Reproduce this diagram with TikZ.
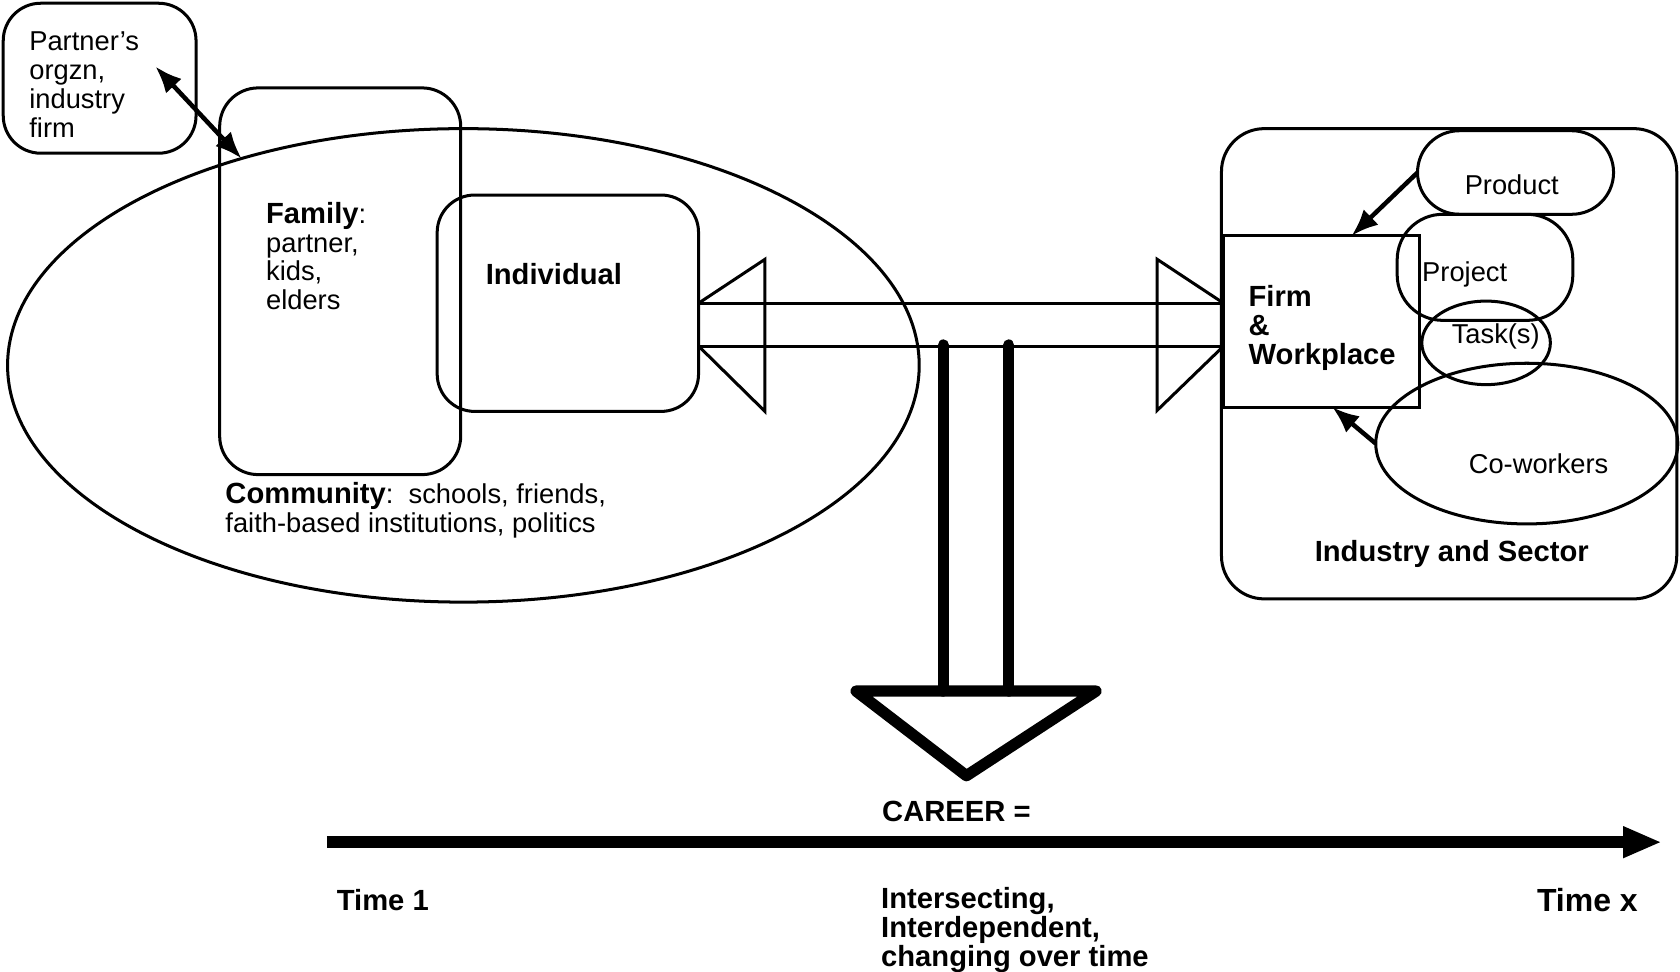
\documentclass[tikz,border=0pt]{standalone}
\usepackage{fontspec}
\setmainfont{Liberation Sans}
\usetikzlibrary{shapes,arrows,positioning,calc,arrows.meta}
\newcommand{\hb}[1]{{\fontsize{15.5}{15.4}\selectfont\bfseries #1}}

\begin{document}
\begin{tikzpicture}[x=0.02cm, y=-0.02cm, >={Latex[length=0.5cm,width=0.4cm]}, line width=1.6pt,
    box/.style={draw, rectangle, inner sep=0pt, outer sep=0pt},
    oval/.style={draw, ellipse, inner sep=0pt, outer sep=0pt},
    txt/.style={inner sep=0pt, align=left, font=\fontsize{14.5}{15.4}\selectfont},
    btxt/.style={txt, font=\fontsize{15.5}{15.4}\selectfont\bfseries},
    link/.style={->, line width=2.4pt},
    stem/.style={line width=6pt}]
    \useasboundingbox (0,0) rectangle (1568,907);

    % community, family, individual
    \node[oval, minimum width=17.02cm, minimum height=8.84cm] (community) at (432.5,341) {};
    \node[txt, anchor=north west] (communitytxt) at (209,449) {\hb{Community}:~~schools, friends,\\faith-based institutions, politics};
    \node[box, rounded corners=0.72cm, minimum width=4.5cm, minimum height=7.22cm] (family) at (317.5,262.5) {};
    \node[txt, anchor=north west] (familytxt) at (247,187) {\hb{Family}:\\partner,\\kids,\\elders};
    \node[box, rounded corners=0.7cm, minimum width=4.88cm, minimum height=4.04cm] (individual) at (530,283) {};
    \node[btxt, anchor=west] (individualtxt) at (452,256) {Individual};

    % partner
    \node[box, rounded corners=0.7cm, minimum width=3.6cm, minimum height=2.8cm] (partner) at (93,73) {};
    \node[txt, anchor=north west] (partnertxt) at (26,28) {Partner's\\orgzn,\\industry\\firm};
    \coordinate (partnerend) at (145,62);
    \draw[<->, line width=2.4pt] (partnerend) -- (community.137);

    % industry and firm
    \node[box, rounded corners=0.8cm, minimum width=8.5cm, minimum height=8.78cm] (industry) at (1352.5,339.5) {};
    \node[btxt, anchor=base] (industrytxt) at (1355,524) {Industry and Sector};
    \node[box, minimum width=3.66cm, minimum height=3.2cm] (firm) at (1233.5,300) {};
    \node[btxt, anchor=north west] (firmtxt) at (1164,265) {Firm\\\&\\Workplace};
    \node[box, rounded corners=0.78cm, minimum width=3.66cm, minimum height=1.56cm] (product) at (1414.5,161) {};
    \node[txt] (producttxt) at (1411,172) {Product};
    \node[box, rounded corners=0.85cm, minimum width=3.28cm, minimum height=1.98cm] (project) at (1386,249.5) {};
    \node[txt, anchor=base west] (projecttxt) at (1326,263) {Project};
    \node[oval, minimum width=2.4cm, minimum height=1.56cm] (task) at (1387,320) {};
    \node[txt, anchor=base] (tasktxt) at (1396,321) {Task(s)};
    \node[oval, minimum width=5.64cm, minimum height=3cm] (coworkers) at (1425,414) {};
    \node[txt] (coworkerstxt) at (1436,433) {Co-workers};
    \draw[link] (product.west) -- ([xshift=0.56cm]firm.north);
    \draw[link] (coworkers.west) -- ([xshift=0.2cm]firm.south);

    % block arrow between individual and firm
    \draw (individual.east) -- (individual.east -| firm.west);
    \draw ([yshift=-0.8cm]individual.east) -- ([yshift=-0.8cm]individual.east -| firm.west);
    \draw (individual.east) -- ++(62,-41) -- ++(0,142) -- ++(-62,-61);
    \draw (firm.west |- individual.east) -- ++(-62,-41) -- ++(0,141) -- ++(62,-60);

    % career arrow
    \coordinate (careerhead) at (911,645);
    \draw[stem, line cap=round] ([xshift=-0.61cm]careerhead) -- ++(0,-323);
    \draw[stem, line cap=round] ([xshift=0.61cm]careerhead) -- ++(0,-323);
    \draw[stem, line join=round] ([xshift=-2.24cm]careerhead) -- ([xshift=2.24cm]careerhead) -- ([shift={(-9,79)}]careerhead) -- cycle;
    \node[btxt, anchor=west] (career) at (822,757) {CAREER =};

    % time line
    \coordinate (tstart) at (305,786);
    \coordinate (tend) at (1551,786);
    \draw[line width=0.22cm, -{Triangle[length=0.72cm,width=0.54cm]}] (tstart) -- (tend);
    \node[btxt, anchor=west] (time1) at (313,840) {Time 1};
    \node[btxt, anchor=north west] (careertxt) at (821,827) {Intersecting,\\Interdependent,\\changing over time};
    \node[btxt, anchor=east, font=\fontsize{17}{18}\selectfont\bfseries] (timex) at (1530,840) {Time x};
\end{tikzpicture}
\end{document}
